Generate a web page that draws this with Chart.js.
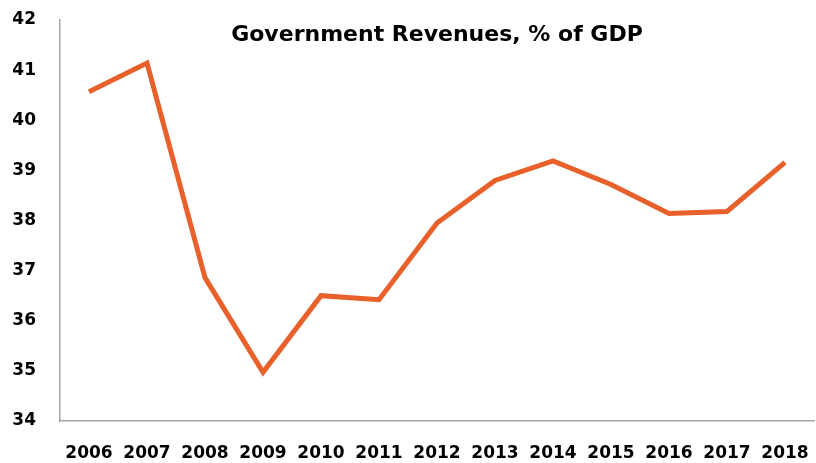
<!DOCTYPE html>
<html>
<head>
<meta charset="utf-8">
<script src="https://cdn.jsdelivr.net/npm/chart.js@4/dist/chart.umd.min.js"></script>
<style>
    html, body { margin: 0; padding: 0; background: #fff; }
    #wrap { width: 816px; height: 463px; }
</style>
</head>
<body>
<div id="wrap"><canvas id="revenueChart"></canvas></div>
<script>
// Government revenues as a share of GDP, by year
const years = ["2006", "2007", "2008", "2009", "2010", "2011", "2012", "2013", "2014", "2015", "2016", "2017", "2018"];
const revenues = [40.57, 41.14, 36.86, 34.97, 36.50, 36.42, 37.95, 38.80, 39.19, 38.72, 38.14, 38.18, 39.16];
const yTicks = [34, 35, 36, 37, 38, 39, 40, 41, 42];

const chartTitle = "Government Revenues, % of GDP";
const fontFamily = "'DejaVu Sans', sans-serif";

// title sits inside the plot area, so draw it by hand
const insideTitle = {
    id: 'insideTitle',
    afterDraw(chart) {
        const ctx = chart.ctx;
        const area = chart.chartArea;
        ctx.save();
        ctx.font = "bold 22px " + fontFamily;
        ctx.fillStyle = "#000";
        ctx.textAlign = "center";
        ctx.textBaseline = "middle";
        ctx.fillText(chartTitle, (area.left + area.right) / 2, area.top + 15);
        ctx.restore();
    }
};

new Chart(document.getElementById("revenueChart"), {
    type: 'line',
    data: {
        labels: years,
        datasets: [{
            data: revenues,
            borderColor: "#E8602A",
            borderWidth: 5,
            pointRadius: 0,
            tension: 0,
            fill: false
        }]
    },
    options: {
        responsive: true,
        maintainAspectRatio: false,
        animation: false,
        layout: { padding: { top: 20, right: 2, left: 0, bottom: 0 } },
        plugins: {
            legend: { display: false },
            title: { display: false },
            tooltip: { enabled: false }
        },
        scales: {
            x: {
                offset: true,
                grid: { drawOnChartArea: false, drawTicks: false },
                border: { display: true, color: "#a6a6a6", width: 1.5 },
                ticks: {
                    color: "#000",
                    padding: 22,
                    maxRotation: 0,
                    autoSkip: false,
                    font: { family: fontFamily, size: 17, weight: 'bold' }
                },
                afterFit(scale) {
                    scale.height = 42;
                    scale.paddingLeft = 0;
                    scale.paddingRight = 0;
                }
            },
            y: {
                min: 34,
                max: 42,
                afterBuildTicks(scale) {
                    scale.ticks = yTicks.map(v => ({ value: v }));
                },
                grid: { drawOnChartArea: false, drawTicks: false },
                border: { display: true, color: "#a6a6a6", width: 1.5 },
                ticks: {
                    color: "#000",
                    padding: 24,
                    font: { family: fontFamily, size: 17, weight: 'bold' }
                },
                afterFit(scale) {
                    scale.width = 60;
                    scale.paddingTop = 0;
                    scale.paddingBottom = 0;
                }
            }
        }
    },
    plugins: [insideTitle]
});
</script>
</body>
</html>
